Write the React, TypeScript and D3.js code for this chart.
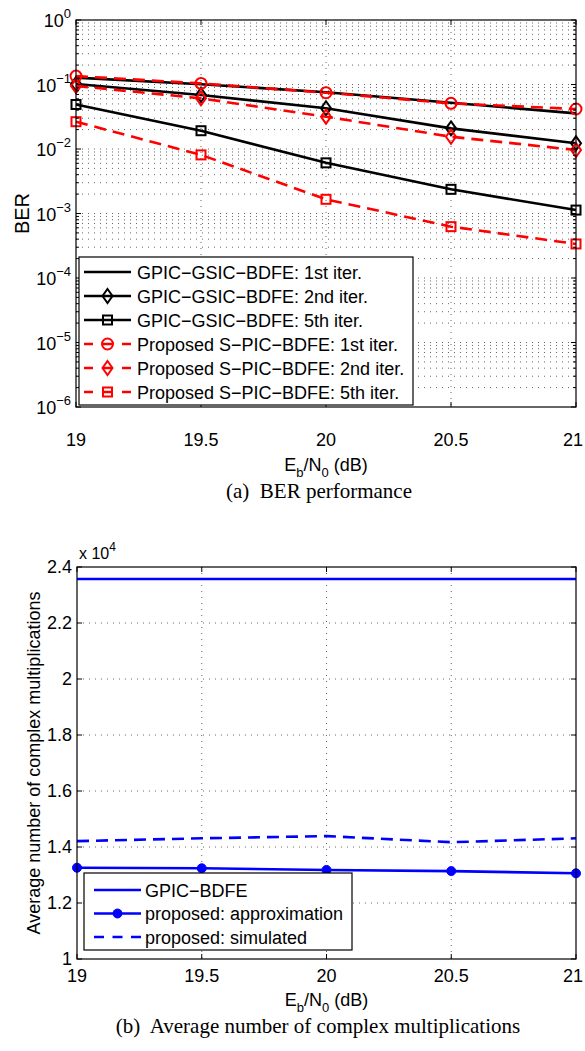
import React from 'react';
import * as d3 from 'd3';

const ebn0 = [19, 19.5, 20, 20.5, 21];
const gpicGsic1 = [0.128, 0.101, 0.076, 0.052, 0.0357];
const gpicGsic2 = [0.102, 0.0687, 0.0428, 0.0209, 0.01225];
const gpicGsic5 = [0.049, 0.0192, 0.0061, 0.00237, 0.00113];
const spic1 = [0.135, 0.104, 0.0746, 0.051, 0.0417];
const spic2 = [0.095, 0.061, 0.0317, 0.0155, 0.00965];
const spic5 = [0.0265, 0.0081, 0.00166, 0.000625, 0.000337];

const berLegend = [
  'GPIC\u2212GSIC\u2212BDFE: 1st iter.',
  'GPIC\u2212GSIC\u2212BDFE: 2nd iter.',
  'GPIC\u2212GSIC\u2212BDFE: 5th iter.',
  'Proposed S\u2212PIC\u2212BDFE: 1st iter.',
  'Proposed S\u2212PIC\u2212BDFE: 2nd iter.',
  'Proposed S\u2212PIC\u2212BDFE: 5th iter.',
];

// complex multiplications, in units of 10^4
const cmGpic = [2.357, 2.357, 2.357, 2.357, 2.357];
const cmApprox = [1.326, 1.324, 1.318, 1.314, 1.306];
const cmSim = [1.421, 1.431, 1.439, 1.417, 1.431];
const cmLegend = ['GPIC\u2212BDFE', 'proposed: approximation', 'proposed: simulated'];

const xTicks = [19, 19.5, 20, 20.5, 21];
const xTickLabels = ['19', '19.5', '20', '20.5', '21'];
const berExps = [0, -1, -2, -3, -4, -5, -6];
const cmTicks = [1, 1.2, 1.4, 1.6, 1.8, 2, 2.2, 2.4];
const cmTickLabels = ['1', '1.2', '1.4', '1.6', '1.8', '2', '2.2', '2.4'];

const FONT = '"Liberation Sans", Arial, Helvetica, sans-serif';
const SERIF = '"Liberation Serif", "Times New Roman", serif';
const FS = 18;
const FS_SUP = 13;

type MarkerType = 'none' | 'circle' | 'diamond' | 'square' | 'dot';

function Marker({ type, x, y, color }: { type: MarkerType; x: number; y: number; color: string }) {
  if (type === 'circle') return <circle cx={x} cy={y} r={5.5} fill="none" stroke={color} strokeWidth={2} />;
  if (type === 'diamond')
    return (
      <path
        d={`M${x},${y - 7}L${x + 5},${y}L${x},${y + 7}L${x - 5},${y}Z`}
        fill="none"
        stroke={color}
        strokeWidth={2}
      />
    );
  if (type === 'square')
    return <rect x={x - 4.5} y={y - 4.5} width={9} height={9} fill="none" stroke={color} strokeWidth={2} />;
  if (type === 'dot') return <circle cx={x} cy={y} r={4.5} fill={color} stroke={color} strokeWidth={1} />;
  return null;
}

function Pow10({ x, y, exp }: { x: number; y: number; exp: number }) {
  const e = exp < 0 ? '\u2212' + Math.abs(exp) : String(exp);
  return (
    <text x={x} y={y} fontFamily={FONT} fontSize={FS} textAnchor="end" fill="#000">
      10
      <tspan dy={-9} fontSize={FS_SUP}>
        {e}
      </tspan>
    </text>
  );
}

function EbN0({ cx, y }: { cx: number; y: number }) {
  return (
    <text x={cx} y={y} fontFamily={FONT} fontSize={FS} textAnchor="middle" fill="#000">
      E<tspan dy={6} fontSize={FS_SUP}>b</tspan>
      <tspan dy={-6}>/N</tspan>
      <tspan dy={6} fontSize={FS_SUP}>0</tspan>
      <tspan dy={-6}> (dB)</tspan>
    </text>
  );
}

export default function App() {
  // ---------- top plot ----------
  const L1 = 76, R1 = 576, T1 = 20, B1 = 407;
  const x1 = d3.scaleLinear().domain([19, 21]).range([L1, R1]);
  const y1 = d3.scaleLog().domain([1e-6, 1]).range([B1, T1]);

  const berSeries = [
    { data: gpicGsic1, color: '#000', dash: undefined, marker: 'none' as MarkerType },
    { data: gpicGsic2, color: '#000', dash: undefined, marker: 'diamond' as MarkerType },
    { data: gpicGsic5, color: '#000', dash: undefined, marker: 'square' as MarkerType },
    { data: spic1, color: '#ff0000', dash: '12,7', marker: 'circle' as MarkerType },
    { data: spic2, color: '#ff0000', dash: '12,7', marker: 'diamond' as MarkerType },
    { data: spic5, color: '#ff0000', dash: '12,7', marker: 'square' as MarkerType },
  ];

  const line1 = d3
    .line<number>()
    .x((_, i) => x1(ebn0[i]))
    .y((d) => y1(d));

  const minorVals: number[] = [];
  for (let e = -6; e < 0; e++) for (let m = 2; m <= 9; m++) minorVals.push(m * Math.pow(10, e));

  // ---------- bottom plot ----------
  const L2 = 77, R2 = 576, T2 = 567, B2 = 959;
  const x2 = d3.scaleLinear().domain([19, 21]).range([L2, R2]);
  const y2 = d3.scaleLinear().domain([1, 2.4]).range([B2, T2]);
  const line2 = d3
    .line<number>()
    .x((_, i) => x2(ebn0[i]))
    .y((d) => y2(d));

  const cmSeries = [
    { data: cmGpic, dash: undefined, marker: 'none' as MarkerType },
    { data: cmApprox, dash: undefined, marker: 'dot' as MarkerType },
    { data: cmSim, dash: '12,7', marker: 'none' as MarkerType },
  ];

  const gridStyle = { stroke: '#555', strokeWidth: 0.9, strokeDasharray: '1,5' };

  // legend geometry
  const lg1 = { x: 79, y: 257, w: 334, h: 148, rowY0: 272, rowDy: 24, s0: 84, s1: 131, tx: 137 };
  const lg2 = { x: 84, y: 873, w: 268, h: 77, rowY0: 890, rowDy: 23.5, s0: 94, s1: 141, tx: 145 };

  return (
    <svg
      width={585}
      height={1051}
      style={{ position: 'absolute', left: 0, top: 0, background: '#fff' }}
      xmlns="http://www.w3.org/2000/svg"
    >
      <rect x={0} y={0} width={585} height={1051} fill="#fff" />

      {/* ===== TOP PLOT ===== */}
      <g>
        {minorVals.map((v, i) => (
          <line key={'mg' + i} x1={L1} x2={R1} y1={y1(v)} y2={y1(v)} {...gridStyle} />
        ))}
        {berExps.slice(1, -1).map((e) => (
          <line key={'Mg' + e} x1={L1} x2={R1} y1={y1(Math.pow(10, e))} y2={y1(Math.pow(10, e))} {...gridStyle} />
        ))}
        {xTicks.slice(1, -1).map((t) => (
          <line key={'vg' + t} x1={x1(t)} x2={x1(t)} y1={T1} y2={B1} {...gridStyle} />
        ))}

        {berSeries.map((s, k) => (
          <g key={'s' + k}>
            <path d={line1(s.data) || ''} fill="none" stroke={s.color} strokeWidth={2.6} strokeDasharray={s.dash} />
            {s.data.map((v, i) => (
              <Marker key={i} type={s.marker} x={x1(ebn0[i])} y={y1(v)} color={s.color} />
            ))}
          </g>
        ))}

        <rect x={L1} y={T1} width={R1 - L1} height={B1 - T1} fill="none" stroke="#000" strokeWidth={1.2} />
        {xTicks.map((t, i) => (
          <g key={'xt' + t}>
            <line x1={x1(t)} x2={x1(t)} y1={B1} y2={B1 - 5} stroke="#000" />
            <line x1={x1(t)} x2={x1(t)} y1={T1} y2={T1 + 5} stroke="#000" />
            <text x={Math.min(x1(t), 573)} y={446} fontFamily={FONT} fontSize={FS} textAnchor="middle">
              {xTickLabels[i]}
            </text>
          </g>
        ))}
        {berExps.map((e) => (
          <g key={'yt' + e}>
            <line x1={L1} x2={L1 + 5} y1={y1(Math.pow(10, e))} y2={y1(Math.pow(10, e))} stroke="#000" />
            <line x1={R1} x2={R1 - 5} y1={y1(Math.pow(10, e))} y2={y1(Math.pow(10, e))} stroke="#000" />
            <Pow10 x={L1 - 5} y={y1(Math.pow(10, e)) + 7} exp={e} />
          </g>
        ))}
        {minorVals.map((v, i) => (
          <g key={'ymt' + i}>
            <line x1={L1} x2={L1 + 3} y1={y1(v)} y2={y1(v)} stroke="#000" />
            <line x1={R1} x2={R1 - 3} y1={y1(v)} y2={y1(v)} stroke="#000" />
          </g>
        ))}

        <rect x={lg1.x} y={lg1.y} width={lg1.w} height={lg1.h} fill="#fff" stroke="#000" strokeWidth={1.2} />
        {berSeries.map((s, k) => {
          const yy = lg1.rowY0 + k * lg1.rowDy;
          return (
            <g key={'lg' + k}>
              <line
                x1={lg1.s0}
                x2={lg1.s1}
                y1={yy}
                y2={yy}
                stroke={s.color}
                strokeWidth={2.6}
                strokeDasharray={s.dash ? '9,10' : undefined}
              />
              <Marker type={s.marker} x={(lg1.s0 + lg1.s1) / 2} y={yy} color={s.color} />
              <text x={lg1.tx} y={yy + 6.5} fontFamily={FONT} fontSize={FS}>
                {berLegend[k]}
              </text>
            </g>
          );
        })}

        <text
          transform={`translate(29,${(T1 + B1) / 2}) rotate(-90)`}
          fontFamily={FONT}
          fontSize={20}
          textAnchor="middle"
        >
          BER
        </text>
        <EbN0 cx={(L1 + R1) / 2} y={471} />
        <text x={319} y={498} fontFamily={SERIF} fontSize={21} textAnchor="middle" style={{ whiteSpace: 'pre' }}>
          (a)  BER performance
        </text>
      </g>

      {/* ===== BOTTOM PLOT ===== */}
      <g>
        {cmTicks.slice(1, -1).map((t) => (
          <line key={'hg2' + t} x1={L2} x2={R2} y1={y2(t)} y2={y2(t)} {...gridStyle} />
        ))}
        {xTicks.slice(1, -1).map((t) => (
          <line key={'vg2' + t} x1={x2(t)} x2={x2(t)} y1={T2} y2={B2} {...gridStyle} />
        ))}

        {cmSeries.map((s, k) => (
          <g key={'c' + k}>
            <path d={line2(s.data) || ''} fill="none" stroke="#0000ff" strokeWidth={2.6} strokeDasharray={s.dash} />
            {s.data.map((v, i) => (
              <Marker key={i} type={s.marker} x={x2(ebn0[i])} y={y2(v)} color="#0000ff" />
            ))}
          </g>
        ))}

        <rect x={L2} y={T2} width={R2 - L2} height={B2 - T2} fill="none" stroke="#000" strokeWidth={1.2} />
        {xTicks.map((t, i) => (
          <g key={'xt2' + t}>
            <line x1={x2(t)} x2={x2(t)} y1={B2} y2={B2 - 5} stroke="#000" />
            <line x1={x2(t)} x2={x2(t)} y1={T2} y2={T2 + 5} stroke="#000" />
            <text x={Math.min(x2(t), 573)} y={982} fontFamily={FONT} fontSize={FS} textAnchor="middle">
              {xTickLabels[i]}
            </text>
          </g>
        ))}
        {cmTicks.map((t, i) => (
          <g key={'yt2' + t}>
            <line x1={L2} x2={L2 + 5} y1={y2(t)} y2={y2(t)} stroke="#000" />
            <line x1={R2} x2={R2 - 5} y1={y2(t)} y2={y2(t)} stroke="#000" />
            <text x={L2 - 5} y={y2(t) + 6} fontFamily={FONT} fontSize={FS} textAnchor="end">
              {cmTickLabels[i]}
            </text>
          </g>
        ))}
        <text x={L2 + 2} y={T2 - 8} fontFamily={FONT} fontSize={16}>
          x 10<tspan dy={-8} fontSize={12}>4</tspan>
        </text>

        <rect x={lg2.x} y={lg2.y} width={lg2.w} height={lg2.h} fill="#fff" stroke="#000" strokeWidth={1.2} />
        {cmSeries.map((s, k) => {
          const yy = lg2.rowY0 + k * lg2.rowDy;
          return (
            <g key={'lg2' + k}>
              <line
                x1={lg2.s0}
                x2={lg2.s1}
                y1={yy}
                y2={yy}
                stroke="#0000ff"
                strokeWidth={2.6}
                strokeDasharray={s.dash ? '10,8.5' : undefined}
              />
              <Marker type={s.marker} x={(lg2.s0 + lg2.s1) / 2} y={yy} color="#0000ff" />
              <text x={lg2.tx} y={yy + 6.5} fontFamily={FONT} fontSize={FS}>
                {cmLegend[k]}
              </text>
            </g>
          );
        })}

        <text
          transform={`translate(40,${(T2 + B2) / 2}) rotate(-90)`}
          fontFamily={FONT}
          fontSize={18}
          textAnchor="middle"
        >
          Average number of complex multiplications
        </text>
        <EbN0 cx={(L2 + R2) / 2} y={1006} />
        <text x={318} y={1033} fontFamily={SERIF} fontSize={21} textAnchor="middle" style={{ whiteSpace: 'pre' }}>
          (b)  Average number of complex multiplications
        </text>
      </g>
    </svg>
  );
}
